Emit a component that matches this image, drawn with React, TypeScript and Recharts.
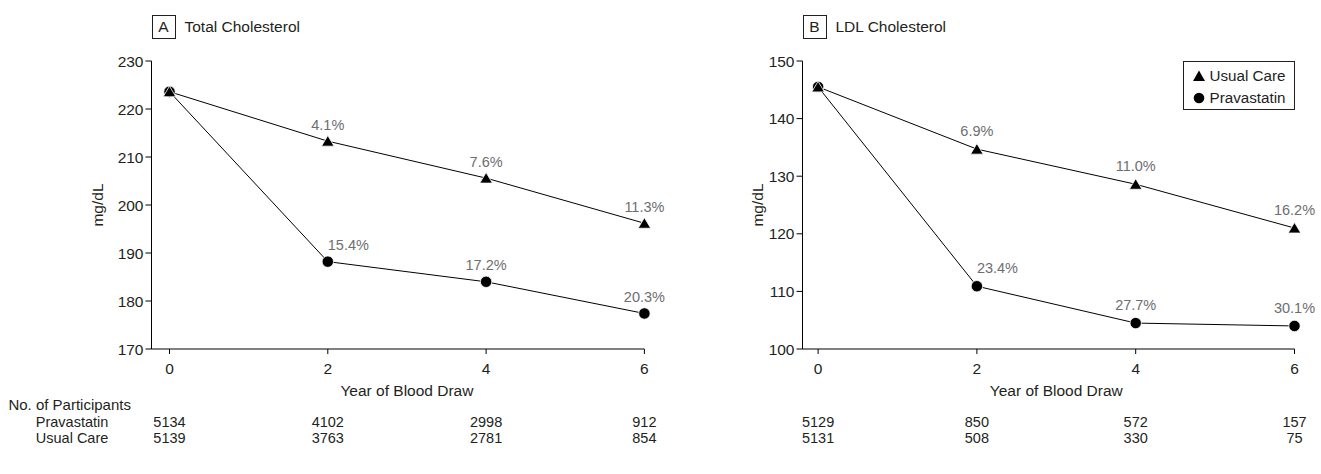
import { LineChart, Line, XAxis, YAxis, Legend, LabelList } from 'recharts';

const years = [0, 2, 4, 6];

// panel A, total cholesterol (mg/dL)
const totalUsualCare = [223.6, 213.3, 205.6, 196.2];
const totalPravastatin = [223.6, 188.2, 184.0, 177.4];
const totalUsualPct = ['', '4.1%', '7.6%', '11.3%'];
const totalPravPct = ['', '15.4%', '17.2%', '20.3%'];
const totalTicks = [170, 180, 190, 200, 210, 220, 230];
const totalPravN = [5134, 4102, 2998, 912];
const totalUsualN = [5139, 3763, 2781, 854];

// panel B, LDL cholesterol (mg/dL)
const ldlUsualCare = [145.5, 134.7, 128.6, 121.0];
const ldlPravastatin = [145.5, 110.9, 104.5, 104.0];
const ldlUsualPct = ['', '6.9%', '11.0%', '16.2%'];
const ldlPravPct = ['', '23.4%', '27.7%', '30.1%'];
const ldlTicks = [100, 110, 120, 130, 140, 150];
const ldlPravN = [5129, 850, 572, 157];
const ldlUsualN = [5131, 508, 330, 75];

const legendItems = [
  { name: 'Usual Care', shape: 'triangle' },
  { name: 'Pravastatin', shape: 'circle' },
];

const INK = '#231f20';
const GREY = '#6d6e71';
const FONT = '"Liberation Sans", Arial, Helvetica, sans-serif';
const TABLE_SIZE = 14.5;

const buildRows = (usual: number[], prav: number[], usualPct: string[], pravPct: string[]) =>
  years.map((year, i) => ({ year, usual: usual[i], prav: prav[i], usualPct: usualPct[i], pravPct: pravPct[i] }));

const triangleDot = (props: any) => {
  const { cx, cy, index } = props;
  return (
    <path
      key={`tri-${index}`}
      d={`M${cx},${cy - 5.6} L${cx + 6.3},${cy + 5} L${cx - 6.3},${cy + 5} Z`}
      fill="#000"
      stroke="#fff"
      strokeWidth={0.8}
    />
  );
};

const circleDot = (props: any) => {
  const { cx, cy, index } = props;
  return <circle key={`dot-${index}`} cx={cx} cy={cy} r={5.7} fill="#000" stroke="#fff" strokeWidth={0.8} />;
};

// percent change labels; the one at startAt is pushed to the right of its point
const makePctLabel = (gap: number, startAt: number) => (props: any) => {
  const { x, y, value, index } = props;
  if (!value) return null;
  const start = index === startAt;
  return (
    <text
      x={x}
      y={y - gap}
      textAnchor={start ? 'start' : 'middle'}
      dominantBaseline="central"
      fontSize={14.5}
      fill={GREY}
    >
      {value}
    </text>
  );
};

const makeYearTick = (pravN: number[], usualN: number[]) => (props: any) => {
  const { x, y, payload } = props;
  const i = years.indexOf(payload.value);
  return (
    <g>
      <text x={x} y={y + 12} textAnchor="middle" dominantBaseline="central" fontSize={15.5} fill={INK}>
        {payload.value}
      </text>
      <text x={x} y={y + 65.5} textAnchor="middle" dominantBaseline="central" fontSize={TABLE_SIZE} fill={INK}>
        {pravN[i]}
      </text>
      <text x={x} y={y + 81.5} textAnchor="middle" dominantBaseline="central" fontSize={TABLE_SIZE} fill={INK}>
        {usualN[i]}
      </text>
    </g>
  );
};

const LegendBox = () => (
  <div
    style={{
      border: `1px solid ${INK}`,
      boxSizing: 'border-box',
      width: 112,
      height: 49,
      padding: '3px 0 0 8px',
      fontSize: 15.2,
      color: INK,
      lineHeight: '22px',
    }}
  >
    {legendItems.map((item) => (
      <div key={item.name} style={{ display: 'flex', alignItems: 'center' }}>
        <svg width={14} height={14} style={{ marginRight: 4 }}>
          {item.shape === 'triangle' ? (
            <path d="M7,1.5 L13,12 L1,12 Z" fill="#000" />
          ) : (
            <circle cx={7} cy={7} r={5.3} fill="#000" />
          )}
        </svg>
        <span>{item.name}</span>
      </div>
    ))}
  </div>
);

interface PanelProps {
  letter: string;
  title: string;
  left: number;
  width: number;
  axisX: number;
  padLeft: number;
  plotRight: number;
  domain: [number, number];
  ticks: number[];
  rows: ReturnType<typeof buildRows>;
  pravN: number[];
  usualN: number[];
  labelGap: number;
  showLegend?: boolean;
}

const Panel = ({ letter, title, left, width, axisX, padLeft, plotRight, domain, ticks, rows, pravN, usualN, labelGap, showLegend }: PanelProps) => (
  <div style={{ position: 'absolute', left, top: 0, width, height: 474 }}>
    <div
      style={{
        position: 'absolute',
        left: axisX,
        top: 15,
        width: 24,
        height: 24,
        border: `1px solid ${INK}`,
        boxSizing: 'border-box',
        fontSize: 15.5,
        lineHeight: '22px',
        textAlign: 'center',
        color: INK,
      }}
    >
      {letter}
    </div>
    <div style={{ position: 'absolute', left: axisX + 33, top: 15, lineHeight: '24px', fontSize: 15.5, color: INK, whiteSpace: 'nowrap' }}>
      {title}
    </div>
    <LineChart width={width} height={474} data={rows} margin={{ top: 61, right: width - plotRight, bottom: 0, left: 0 }}>
      <XAxis
        dataKey="year"
        type="number"
        domain={[0, 6]}
        ticks={years}
        interval={0}
        padding={{ left: padLeft, right: 0 }}
        height={125}
        tickSize={5}
        tickMargin={2}
        axisLine={{ stroke: '#000' }}
        tickLine={{ stroke: '#000' }}
        tick={makeYearTick(pravN, usualN)}
        label={{ value: 'Year of Blood Draw', position: 'insideTop', offset: 36, dx: padLeft / 2, fontSize: 15.5, fill: INK }}
      />
      <YAxis
        type="number"
        domain={domain}
        ticks={ticks}
        interval={0}
        width={axisX}
        tickSize={6}
        tickMargin={2}
        axisLine={{ stroke: '#000' }}
        tickLine={{ stroke: '#000' }}
        tick={{ fill: INK, fontSize: 15.5 }}
        label={{ value: 'mg/dL', angle: -90, position: 'insideLeft', offset: 97, fontSize: 15.5, fill: INK, style: { textAnchor: 'middle' } }}
      />
      <Line
        dataKey="prav"
        name="Pravastatin"
        type="linear"
        stroke="#000"
        strokeWidth={1}
        dot={circleDot}
        activeDot={false}
        isAnimationActive={false}
      >
        <LabelList dataKey="pravPct" content={makePctLabel(labelGap, 1)} />
      </Line>
      <Line
        dataKey="usual"
        name="Usual Care"
        type="linear"
        stroke="#000"
        strokeWidth={1}
        dot={triangleDot}
        activeDot={false}
        isAnimationActive={false}
      >
        <LabelList dataKey="usualPct" content={makePctLabel(labelGap, -1)} />
      </Line>
      {showLegend && (
        <Legend
          layout="vertical"
          align="center"
          verticalAlign="middle"
          content={<LegendBox />}
          wrapperStyle={{ left: plotRight - 112, top: 61, width: 112, height: 49 }}
        />
      )}
    </LineChart>
  </div>
);

const rowsA = buildRows(totalUsualCare, totalPravastatin, totalUsualPct, totalPravPct);
const rowsB = buildRows(ldlUsualCare, ldlPravastatin, ldlUsualPct, ldlPravPct);

const rowLabel = (text: string, x: number, cy: number, size: number) => (
  <div style={{ position: 'absolute', left: x, top: cy - 8, lineHeight: '16px', fontSize: size, color: INK, whiteSpace: 'nowrap' }}>
    {text}
  </div>
);

export default function App() {
  return (
    <div style={{ position: 'absolute', left: 0, top: 0, width: 1321, height: 474, background: '#fff', fontFamily: FONT, overflow: 'hidden' }}>
      <Panel
        letter="A"
        title="Total Cholesterol"
        left={0}
        width={700}
        axisX={151.5}
        padLeft={18}
        plotRight={644.4}
        domain={[170, 230]}
        ticks={totalTicks}
        rows={rowsA}
        pravN={totalPravN}
        usualN={totalUsualN}
        labelGap={16.5}
      />
      <Panel
        letter="B"
        title="LDL Cholesterol"
        left={660}
        width={661}
        axisX={142.5}
        padLeft={15.6}
        plotRight={634.5}
        domain={[100, 150]}
        ticks={ldlTicks}
        rows={rowsB}
        pravN={ldlPravN}
        usualN={ldlUsualN}
        labelGap={18.3}
        showLegend
      />
      {rowLabel('No. of Participants', 8.4, 405, 15)}
      {rowLabel('Pravastatin', 35.8, 421.5, TABLE_SIZE)}
      {rowLabel('Usual Care', 35.8, 437.5, TABLE_SIZE)}
    </div>
  );
}
